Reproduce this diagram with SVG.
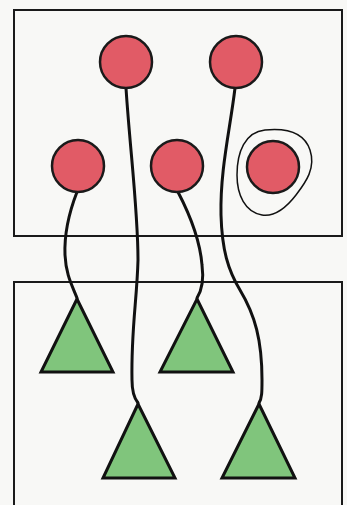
<svg xmlns="http://www.w3.org/2000/svg" width="347" height="505" viewBox="0 0 347 505">
<style>
.box{fill:none;stroke:#1a1a1a;stroke-width:2}
.cell{fill:#e15b66;stroke:#1a1a1a;stroke-width:2.5}
.tri{fill:#80c57c;stroke:#111;stroke-width:3;stroke-linejoin:miter}
.wire{fill:none;stroke:#111;stroke-width:3;stroke-linecap:round}
.halo{fill:none;stroke:#111;stroke-width:1.5}
</style>
<rect width="347" height="505" fill="#f8f8f6"/>
<g id="top-box"><rect class="box" x="14" y="10" width="328" height="226"/></g>
<g id="bottom-box"><rect class="box" x="14" y="282" width="328" height="240"/></g>
<g id="connectors">
<path class="wire" d="M77,192 C70,210 64,230 65,255 C66,275 72,285 77,298"/>
<path class="wire" d="M126,88 C130,150 138,210 138,260 C137,300 131,330 132,380 C132,392 134,398 138,403"/>
<path class="wire" d="M178,192 C190,215 200,240 202,265 C204,280 202,290 197,298"/>
<path class="wire" d="M235,88 C230,130 220,170 221,215 C222,250 228,270 240,290 C255,315 262,340 262,380 C262,392 262,398 259,403"/>
</g>
<g id="circle-a"><circle class="cell" cx="126" cy="62" r="26"/></g>
<g id="circle-b"><circle class="cell" cx="236" cy="62" r="26"/></g>
<g id="circle-c"><circle class="cell" cx="78" cy="166" r="26"/></g>
<g id="circle-d"><circle class="cell" cx="177" cy="166" r="26"/></g>
<g id="circle-e">
<path class="halo" d="M265,130 C285,128 304,132 310,150 C316,168 306,182 296,195 C286,208 275,217 262,215 C245,212 237,195 237,175 C237,152 245,132 265,130 Z"/>
<circle class="cell" cx="273" cy="167" r="26"/>
</g>
<g id="tri-1"><polygon class="tri" points="77,299 113,372 41,372"/></g>
<g id="tri-2"><polygon class="tri" points="197,299 233,372 160,372"/></g>
<g id="tri-3"><polygon class="tri" points="138,404 175,478 103,478"/></g>
<g id="tri-4"><polygon class="tri" points="259,404 295,478 222,478"/></g>
</svg>
